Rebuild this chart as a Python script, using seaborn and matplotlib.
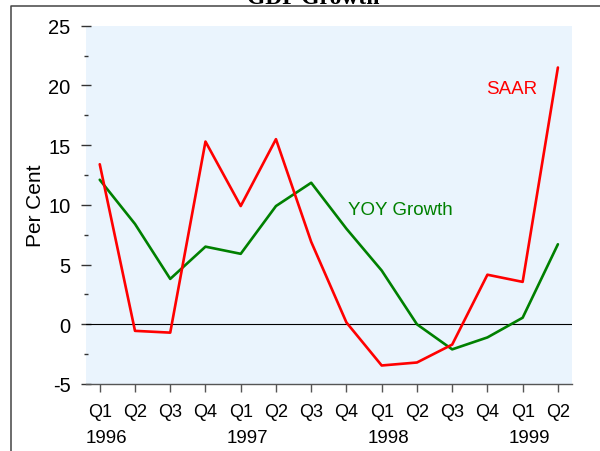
# GDP growth: SAAR vs year-on-year, quarterly 1996-1999
import numpy as np
import pandas as pd
import matplotlib.pyplot as plt
import seaborn as sns
from matplotlib.lines import Line2D
from matplotlib.ticker import MultipleLocator
from matplotlib.transforms import blended_transform_factory

# data
quarters = ['Q1', 'Q2', 'Q3', 'Q4', 'Q1', 'Q2', 'Q3', 'Q4',
            'Q1', 'Q2', 'Q3', 'Q4', 'Q1', 'Q2']
years = ['1996', '1997', '1998', '1999']
year_pos = [0, 4, 8, 12]
saar = [13.4, -0.55, -0.7, 15.3, 9.9, 15.5, 6.9, 0.15,
        -3.45, -3.2, -1.7, 4.15, 3.55, 21.5]
yoy = [12.1, 8.4, 3.8, 6.5, 5.9, 9.9, 11.85, 8.0,
       4.5, 0.0, -2.1, -1.1, 0.55, 6.7]

n = len(quarters)
df = pd.DataFrame({
    'idx': list(range(n)) * 2,
    'value': saar + yoy,
    'series': ['SAAR'] * n + ['YOY Growth'] * n,
})

sns.set_style('ticks')
plt.rcParams['font.family'] = ['Liberation Sans', 'DejaVu Sans']
plt.rcParams['axes.unicode_minus'] = False
plt.rcParams['text.color'] = 'black'
plt.rcParams['axes.labelcolor'] = 'black'
plt.rcParams['xtick.labelcolor'] = 'black'
plt.rcParams['ytick.labelcolor'] = 'black'

fig = plt.figure(figsize=(6, 4.52), dpi=100)
ax = fig.add_axes([86 / 600, 1 - 385 / 452, (572 - 86) / 600, (385 - 26.7) / 452])
ax.set_facecolor('#eaf4fd')

ax.axhline(0, color='black', lw=0.8, zorder=1)
sns.lineplot(data=df, x='idx', y='value', hue='series',
             hue_order=['YOY Growth', 'SAAR'],
             palette={'SAAR': '#ff0000', 'YOY Growth': '#008000'},
             lw=1.9, legend=False, ax=ax, zorder=3)

ax.set_xlim(-0.39, 13.4)
ax.set_ylim(-5, 25)

for s in ['left', 'top', 'right']:
    ax.spines[s].set_visible(False)
ax.spines['bottom'].set_color('#555555')
ax.spines['bottom'].set_linewidth(1.0)

# y axis
ax.yaxis.set_major_locator(MultipleLocator(5))
ax.yaxis.set_minor_locator(MultipleLocator(2.5))
ax.tick_params(axis='y', which='major', direction='inout', length=6.5,
               width=1, color='#333333', pad=8, labelsize=14.5)
ax.tick_params(axis='y', which='minor', direction='inout', length=3,
               width=1, color='#333333')
ax.set_ylabel('Per Cent', fontsize=15)
ax.yaxis.set_label_coords(-0.084, 0.5)

# x axis
ax.set_xticks(range(n))
ax.set_xticklabels(quarters)
ax.tick_params(axis='x', direction='out', length=6, width=1,
               color='#555555', pad=8, labelsize=13)
ax.set_xlabel('')

trans = blended_transform_factory(ax.transData, ax.transAxes)
for pos, yr in zip(year_pos, years):
    ax.text(pos - 0.4, -0.162, yr, transform=trans, ha='left',
            va='baseline', fontsize=13.5)

# series labels
ax.text(11.7, 19.75, 'SAAR', color='#ff0000', ha='center', va='center', fontsize=13.5)
ax.text(7.05, 9.6, 'YOY Growth', color='#008000', ha='left', va='center', fontsize=13.5)

# title (cut off at the top edge, as in the original) and outer frame
fig.text(313 / 600, 1 - 3.5 / 452, 'GDP Growth', family='Liberation Serif',
         weight='bold', fontsize=17, ha='center', va='baseline')
fig.add_artist(Line2D([11 / 600, 11 / 600, 1.01], [-0.01, 1 - 6.5 / 452, 1 - 6.5 / 452],
                      transform=fig.transFigure, color='#444444', lw=1.1))

fig.savefig('out.png', dpi=100)
